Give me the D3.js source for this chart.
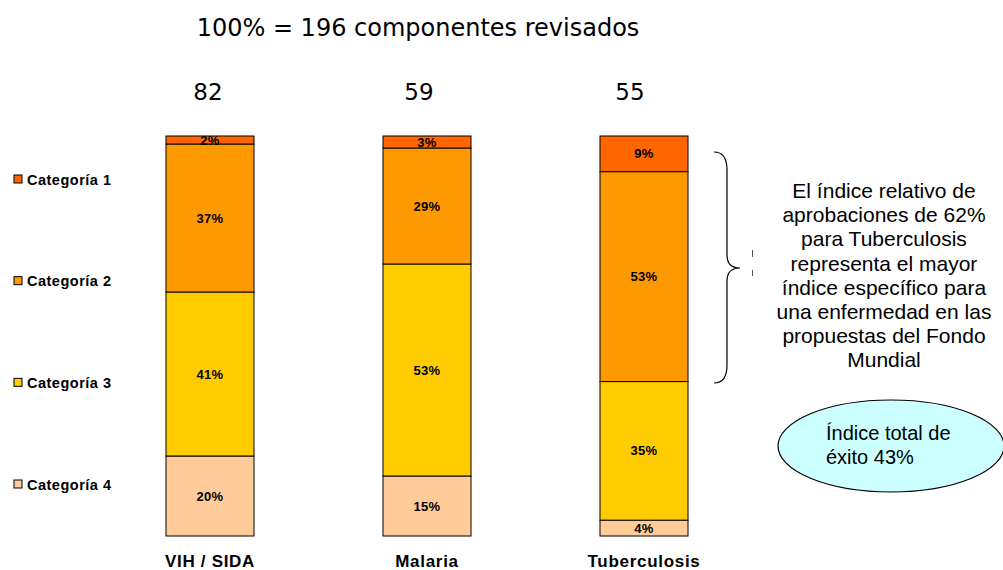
<!DOCTYPE html>
<html><head><meta charset="utf-8">
<script src="https://cdn.jsdelivr.net/npm/d3@7"></script>
<style>body{margin:0;background:#fff}svg{display:block}</style>
</head><body>
<script>
const diseases = ["VIH / SIDA", "Malaria", "Tuberculosis"];
const counts = [82, 59, 55];
const categories = ["Categoría 1", "Categoría 2", "Categoría 3", "Categoría 4"];
const cat1 = [2, 3, 9];
const cat2 = [37, 29, 53];
const cat3 = [41, 53, 35];
const cat4 = [20, 15, 4];
const colors = ["#FF6600", "#FF9900", "#FFCC00", "#FFCC99"];
const title = "100% = 196 componentes revisados";
const noteLines = ["El índice relativo de", "aprobaciones de 62%", "para Tuberculosis", "representa el mayor", "índice específico para", "una enfermedad en las", "propuestas del Fondo", "Mundial"];
const ovalLines = ["Índice total de", "éxito 43%"];

const W = 1003, H = 570;
const svg = d3.select("body").append("svg").attr("width", W).attr("height", H);

const rows = diseases.map((d, i) => ({disease: d, c1: cat1[i], c2: cat2[i], c3: cat3[i], c4: cat4[i]}));
const keys = ["c4", "c3", "c2", "c1"];
const keyColor = {c1: colors[0], c2: colors[1], c3: colors[2], c4: colors[3]};
const stack = d3.stack().keys(keys).offset(d3.stackOffsetExpand)(rows);

const x = d3.scalePoint().domain(diseases).range([210, 644]);
const xCount = d3.scalePoint().domain(diseases).range([208, 630]);
const bw = 88;
const y = d3.scaleLinear().domain([0, 1]).range([536, 136]);

const sans = "Liberation Sans, Arial, sans-serif";
const tahoma = "DejaVu Sans, Verdana, sans-serif";

// title
svg.append("text").attr("x", 418).attr("y", 36).attr("text-anchor", "middle")
  .attr("font-family", tahoma).attr("font-size", 24).attr("fill", "#000").text(title);

// counts
svg.selectAll(".cnt").data(diseases).enter().append("text")
  .attr("x", d => xCount(d)).attr("y", 100).attr("text-anchor", "middle")
  .attr("font-family", tahoma).attr("font-size", 23).attr("fill", "#000")
  .text((d, i) => counts[i]);

// bars
const g = svg.append("g");
stack.forEach(layer => {
  g.selectAll(null).data(layer).enter().append("rect")
    .attr("x", d => x(d.data.disease) - bw / 2)
    .attr("y", d => y(d[1]))
    .attr("width", bw)
    .attr("height", d => y(d[0]) - y(d[1]))
    .attr("fill", keyColor[layer.key])
    .attr("stroke", "#000").attr("stroke-width", 1);
});
stack.forEach(layer => {
  g.selectAll(null).data(layer).enter().append("text")
    .attr("x", d => x(d.data.disease))
    .attr("y", d => (y(d[0]) + y(d[1])) / 2 + 4.5)
    .attr("text-anchor", "middle")
    .attr("font-family", sans).attr("font-weight", "bold").attr("font-size", 13)
    .attr("letter-spacing", 0.3)
    .attr("fill", "#000")
    .text(d => d.data[layer.key] + "%");
});

// disease labels
svg.selectAll(".dl").data(diseases).enter().append("text")
  .attr("x", d => x(d)).attr("y", 567).attr("text-anchor", "middle")
  .attr("font-family", sans).attr("font-weight", "bold").attr("font-size", 17)
  .attr("letter-spacing", 0.7)
  .attr("fill", "#000").text(d => d);

// legend
const ly = d3.scalePoint().domain(categories).range([179, 484]);
const lg = svg.append("g");
lg.selectAll("rect").data(categories).enter().append("rect")
  .attr("x", 14).attr("y", d => ly(d) - 4).attr("width", 8).attr("height", 8)
  .attr("fill", (d, i) => colors[i]).attr("stroke", "#000").attr("stroke-width", 1);
lg.selectAll("text").data(categories).enter().append("text")
  .attr("x", 27).attr("y", d => ly(d) + 5.5)
  .attr("font-family", sans).attr("font-weight", "bold").attr("font-size", 14.5)
  .attr("letter-spacing", 0.5)
  .attr("fill", "#000").text(d => d);

// brace
const p = d3.path();
p.moveTo(714, 152);
p.quadraticCurveTo(727, 152, 727, 170);
p.lineTo(727, 255);
p.quadraticCurveTo(727, 268, 740, 268);
p.quadraticCurveTo(727, 268, 727, 281);
p.lineTo(727, 365);
p.quadraticCurveTo(727, 383, 714, 383);
svg.append("path").attr("d", p.toString()).attr("fill", "none").attr("stroke", "#000").attr("stroke-width", 1.2);
svg.append("line").attr("x1", 752.5).attr("x2", 752.5).attr("y1", 250).attr("y2", 257).attr("stroke", "#555").attr("stroke-width", 1);
svg.append("line").attr("x1", 752.5).attr("x2", 752.5).attr("y1", 270).attr("y2", 276).attr("stroke", "#555").attr("stroke-width", 1);

// note text
svg.append("g").selectAll("text").data(noteLines).enter().append("text")
  .attr("x", 884).attr("y", (d, i) => 198 + i * 24.2).attr("text-anchor", "middle")
  .attr("font-family", sans).attr("font-size", 21).attr("fill", "#000")
  .text(d => d);

// oval
svg.append("ellipse").attr("cx", 891).attr("cy", 446).attr("rx", 113).attr("ry", 46)
  .attr("fill", "#CCFFFF").attr("stroke", "#000").attr("stroke-width", 1.2);
svg.append("g").selectAll("text").data(ovalLines).enter().append("text")
  .attr("x", 826).attr("y", (d, i) => 440 + i * 24)
  .attr("font-family", sans).attr("font-size", 20).attr("fill", "#000")
  .text(d => d);
</script>
</body></html>
